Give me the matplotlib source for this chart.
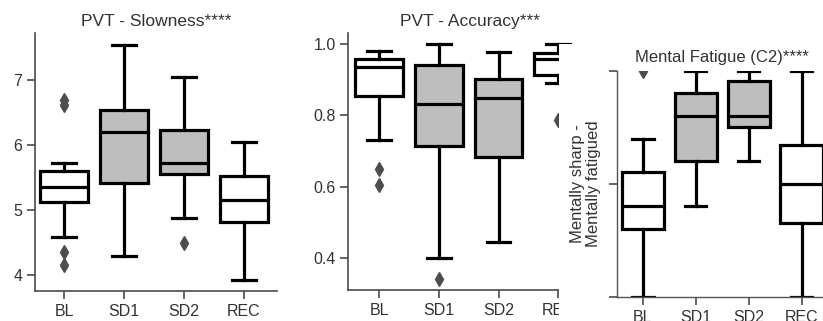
import numpy as np
import matplotlib
matplotlib.use("Agg")
import matplotlib.pyplot as plt
from matplotlib.patches import Rectangle

plt.rcParams['font.family'] = ['Liberation Sans', 'DejaVu Sans']

# --- Datos -----------------------------------------------------------------------------
groups = ['BL', 'SD1', 'SD2', 'REC']
box_fill = ['white', '#bebebe', '#bebebe', 'white']

# PVT - Slowness
slow_whislo = [4.58, 4.30, 4.88, 3.93]
slow_q1     = [5.13, 5.42, 5.55, 4.82]
slow_med    = [5.35, 6.20, 5.73, 5.15]
slow_q3     = [5.61, 6.55, 6.23, 5.53]
slow_whishi = [5.72, 7.55, 7.05, 6.05]
slow_fliers = [[6.70, 6.62, 4.35, 4.15], [], [4.50], []]

# PVT - Accuracy
acc_whislo = [0.730, 0.400, 0.445, 0.892]
acc_q1     = [0.855, 0.713, 0.684, 0.914]
acc_med    = [0.936, 0.831, 0.850, 0.959]
acc_q3     = [0.960, 0.943, 0.903, 0.975]
acc_whishi = [0.980, 1.000, 0.978, 1.000]
acc_fliers = [[0.648, 0.605], [0.340], [], [0.786]]

# Mental Fatigue (C2)
fat_whislo = [0, 40, 60, 0]
fat_q1     = [30, 60, 75, 32.5]
fat_med    = [40, 80, 80, 50]
fat_q3     = [55, 90, 95.5, 67]
fat_whishi = [70, 100, 100, 100]
fat_fliers = [[100], [], [], []]


def make_stats(whislo, q1, med, q3, whishi, fliers):
    return [dict(label=g, whislo=a, q1=b, med=c, q3=d, whishi=e, fliers=f)
            for g, a, b, c, d, e, f in zip(groups, whislo, q1, med, q3, whishi, fliers)]


def boxplot(ax, stats, lw=2.3):
    line = dict(color='black', linewidth=lw)
    bp = ax.bxp(stats, positions=range(len(stats)), widths=0.8, capwidths=0.4,
                patch_artist=True,
                boxprops=dict(edgecolor='black', linewidth=lw),
                medianprops=line, whiskerprops=line, capprops=line,
                flierprops=dict(marker='d', markersize=7.5, markerfacecolor='#4d4d4d',
                                markeredgecolor='#4d4d4d', linestyle='none'))
    for patch, fc in zip(bp['boxes'], box_fill):
        patch.set_facecolor(fc)
    for sp in ['top', 'right']:
        ax.spines[sp].set_visible(False)
    for sp in ['left', 'bottom']:
        ax.spines[sp].set_color('#4a4a4a')
        ax.spines[sp].set_linewidth(1.2)
    ax.tick_params(colors='#4a4a4a', labelcolor='#333333', labelsize=11.5,
                   length=5.5, width=1.2, pad=3.5)
    ax.tick_params(axis='x', pad=4)
    return bp


fig = plt.figure(figsize=(8.23, 3.21), dpi=100)

# --- Panel 1 ---------------------------------------------------------------------------
ax1 = fig.add_axes([0.0425, 0.0935, 0.2940, 0.8037])
boxplot(ax1, make_stats(slow_whislo, slow_q1, slow_med, slow_q3, slow_whishi, slow_fliers))
ax1.set_ylim(3.754, 7.73)
ax1.set_xlim(-0.49, 3.55)
ax1.set_yticks([4, 5, 6, 7])
ax1.set_title('PVT - Slowness****', fontsize=12.5, color='#333333', pad=5)

# --- Panel 2 ---------------------------------------------------------------------------
ax2 = fig.add_axes([0.4232, 0.0966, 0.2949, 0.8006])
boxplot(ax2, make_stats(acc_whislo, acc_q1, acc_med, acc_q3, acc_whishi, acc_fliers))
ax2.set_ylim(0.309, 1.032)
ax2.set_xlim(-0.52, 3.55)
ax2.set_yticks([0.4, 0.6, 0.8, 1.0])
ax2.set_yticklabels(['0.4', '0.6', '0.8', '1.0'])
ax2.set_title('PVT - Accuracy***', fontsize=12.5, color='#333333', pad=5)

# tapa blanca: el tercer panel se superpone al segundo
fig.add_artist(Rectangle((559 / 823, 0), 1, (321 - 44) / 321, transform=fig.transFigure,
                         facecolor='white', edgecolor='none', zorder=1.5))

# --- Panel 3 ---------------------------------------------------------------------------
ax3 = fig.add_axes([0.7491, 0.0757, 0.2570, 0.7040])
ax3.set_zorder(2)
boxplot(ax3, make_stats(fat_whislo, fat_q1, fat_med, fat_q3, fat_whishi, fat_fliers))
ax3.set_ylim(0, 100)
ax3.set_xlim(-0.5, 3.5)
ax3.set_yticks([0, 50, 100])
ax3.set_yticklabels([])
for sp in ['left', 'bottom']:
    ax3.spines[sp].set_linewidth(1.0)
    ax3.spines[sp].set_color('#555555')
ax3.set_ylabel('Mentally sharp -\nMentally fatigued', fontsize=12, color='#333333',
               linespacing=1.1, labelpad=2)
ax3.set_title('Mental Fatigue (C2)****', fontsize=12, color='#333333', pad=6)

fig.savefig('out.png', dpi=100)
